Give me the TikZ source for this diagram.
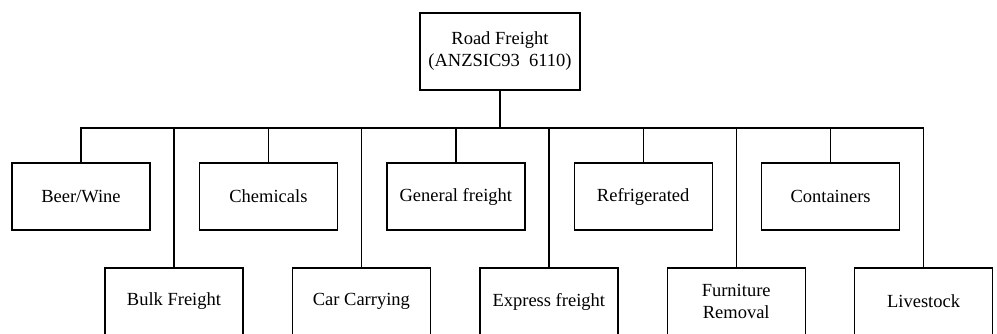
\documentclass[tikz,border=0pt]{standalone}
\usepackage{fontspec}
\setmainfont{Liberation Serif}
\usepackage{tikz}
\usetikzlibrary{positioning}

\begin{document}
\begin{tikzpicture}[
        x=1pt, y=-1pt,
        node distance=48pt,
        box/.style={rectangle, draw, line width=1.4pt, minimum width=138pt, minimum height=67pt, inner sep=0pt, align=center, font=\fontsize{18.5}{22}\selectfont},
        rootbox/.style={box, minimum width=160pt, minimum height=77pt},
        link/.style={line width=1.4pt}
    ]
    \useasboundingbox (0,0) rectangle (997,333);

    \node[rootbox] (root) at (500,51.5) {Road Freight \\ (ANZSIC93\ \ 6110)};
    \coordinate (bus) at (500,128);

    % upper row
    \node[box] (beer) at (81,196.5) {Beer/Wine};
    \node[box, right=of beer] (chem) {Chemicals};
    \node[box, right=of chem] (general) {General freight};
    \node[box, right=of general] (refrig) {Refrigerated};
    \node[box, right=of refrig] (contain) {Containers};

    % lower row
    \node[box] (bulk) at (174,301.5) {Bulk Freight};
    \node[box, right=of bulk] (car) {Car Carrying};
    \node[box, right=of car] (express) {Express freight};
    \node[box, right=of express] (furniture) {Furniture \\ Removal};
    \node[box, right=of furniture] (live) {Livestock};

    \foreach \child in {beer, chem, general, refrig, contain, bulk, car, express, furniture, live}
        \draw[link] (root.south) -- (bus) -| (\child.north);

\end{tikzpicture}
\end{document}
